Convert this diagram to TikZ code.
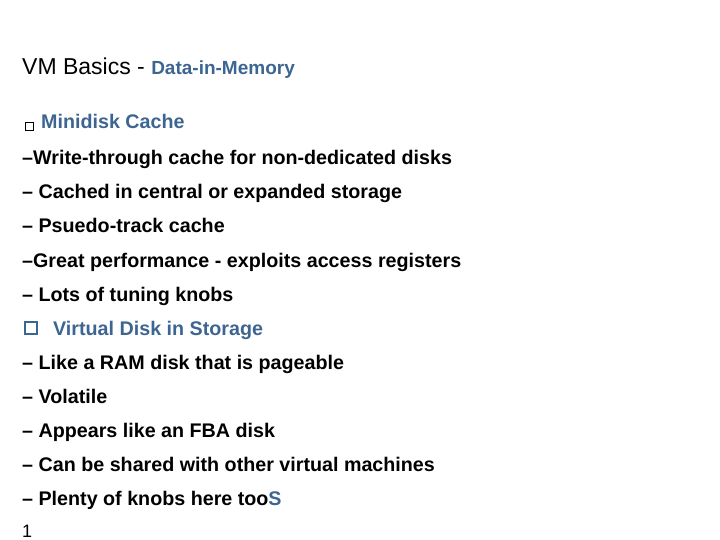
\documentclass[tikz,border=0pt]{standalone}
\usepackage{fontspec}
\setmainfont{Liberation Sans}
\definecolor{ibmblue}{HTML}{3D6591}
\begin{document}
\begin{tikzpicture}[x=1pt,y=-1pt,
  item/.style={anchor=base west,inner sep=0pt,font=\fontsize{19.7}{22}\selectfont\bfseries},
  head/.style={item,text=ibmblue}]
\useasboundingbox (0,0) rectangle (720,540);
\node[anchor=base west,inner sep=0pt,font=\fontsize{23}{26}\selectfont] (t) at (22,75) {VM Basics - {\fontsize{19}{22}\selectfont\bfseries\color{ibmblue}Data-in-Memory}};
\node[draw=black,line width=0.9pt,minimum size=8pt,inner sep=0pt] (b1) at (29,126) {};
\node[head] (h1) at (41,129) {Minidisk Cache};
\node[item] (a1) at (22,165) {–Write-through cache for non-dedicated disks};
\node[item] (a2) at (22,199) {– Cached in central or expanded storage};
\node[item] (a3) at (22,233) {– Psuedo-track cache};
\node[item] (a4) at (22,267) {–Great performance - exploits access registers};
\node[item] (a5) at (22,301) {– Lots of tuning knobs};
\node[draw=ibmblue,line width=2.2pt,minimum size=12pt,inner sep=0pt] (b2) at (31,328) {};
\node[head] (h2) at (53,335) {Virtual Disk in Storage};
\node[item] (c1) at (22,369) {– Like a RAM disk that is pageable};
\node[item] (c2) at (22,403) {– Volatile};
\node[item] (c3) at (22,437) {– Appears like an FBA disk};
\node[item] (c4) at (22,471) {– Can be shared with other virtual machines};
\node[item] (c5) at (22,505) {– Plenty of knobs here too{\color{ibmblue}S}};
\node[anchor=base west,inner sep=0pt,font=\fontsize{18}{20}\selectfont] (n) at (22,537) {1};
\end{tikzpicture}
\end{document}
